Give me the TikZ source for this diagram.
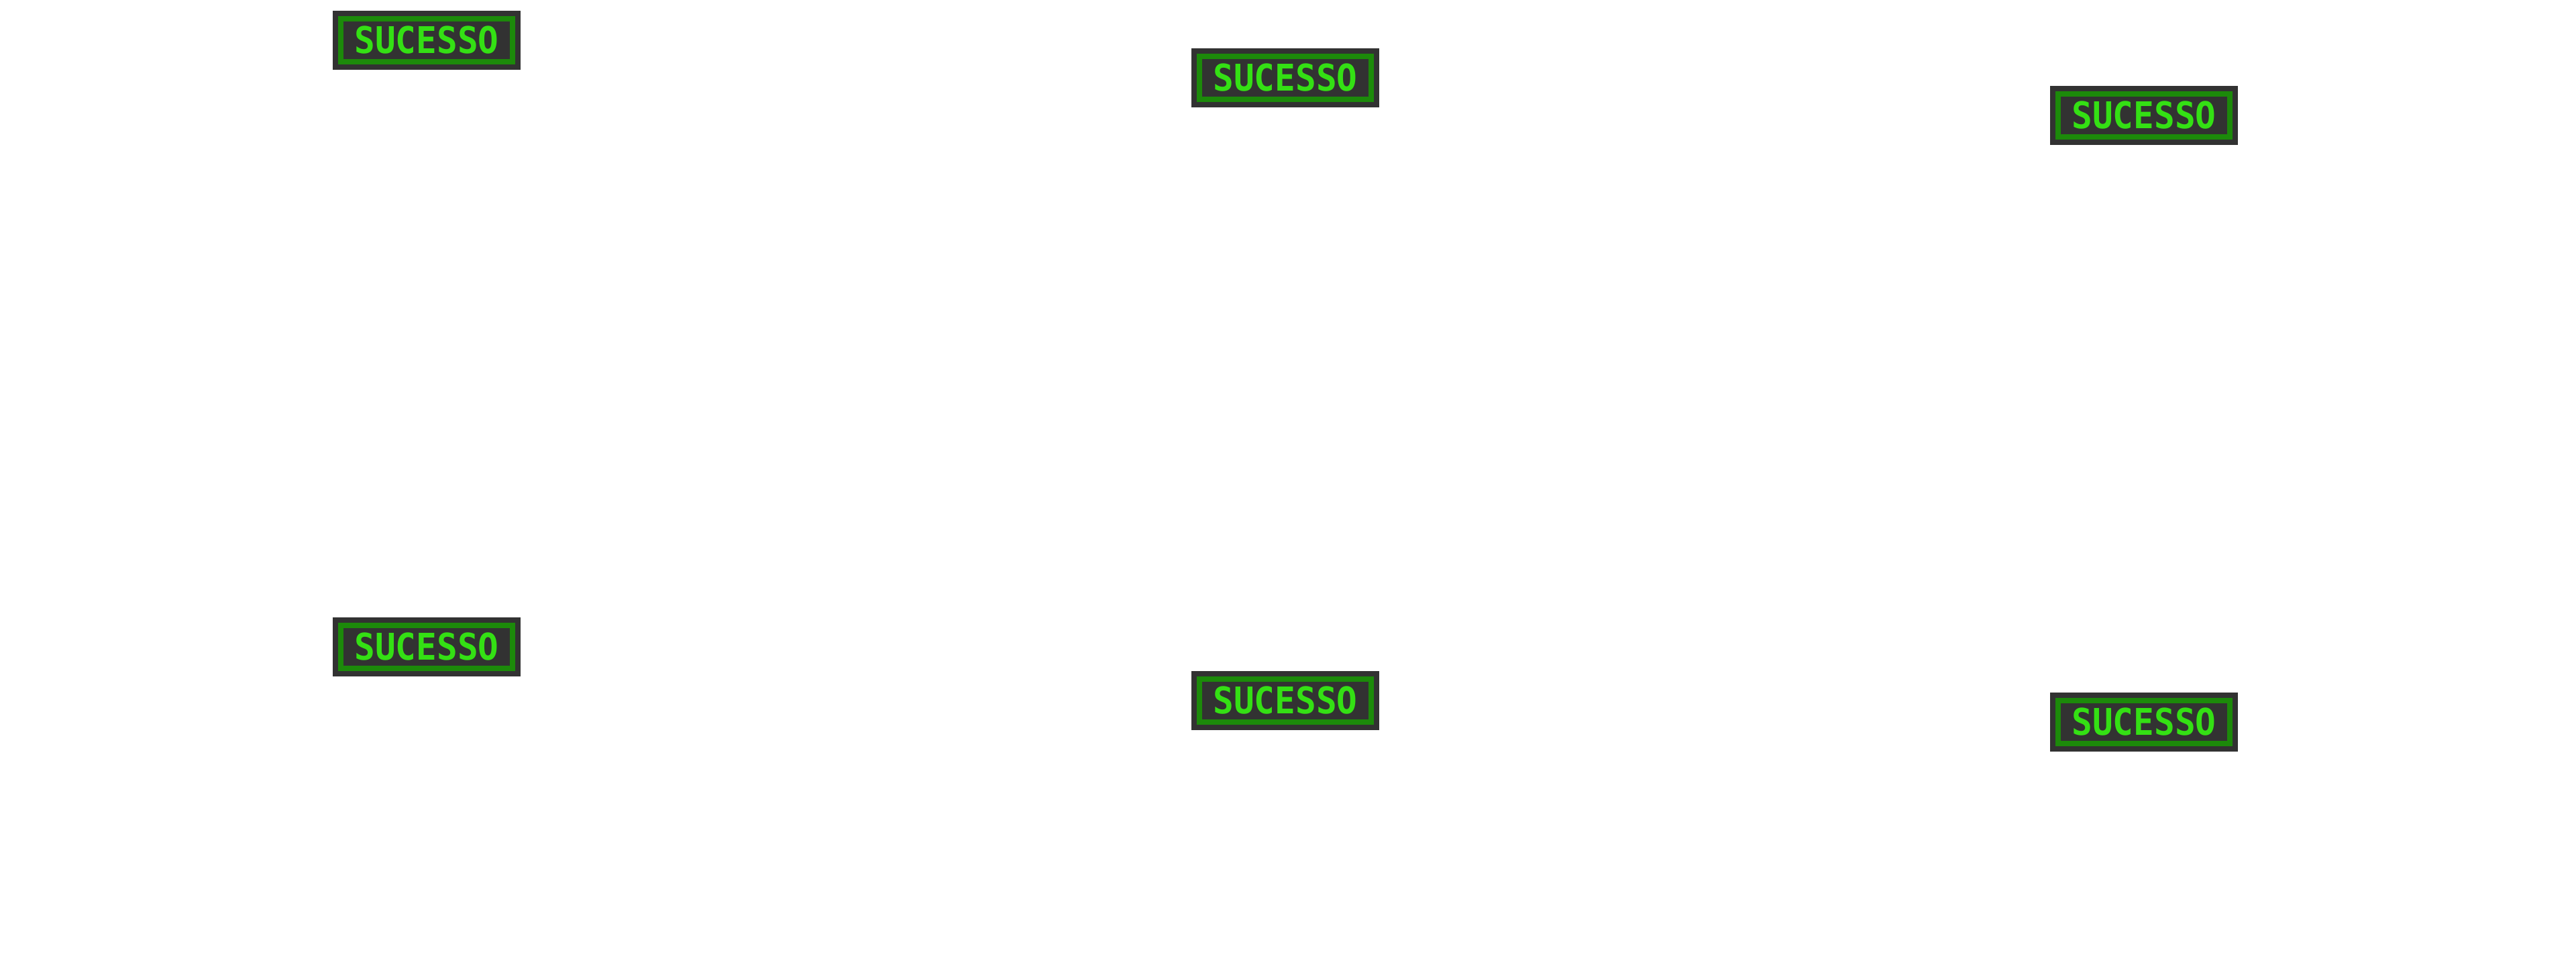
\documentclass[tikz,border=0pt]{standalone}
\usepackage{fontspec}
\usepackage{tikz}
\usetikzlibrary{shapes,positioning}
\newfontfamily\pixelfont{DejaVu Sans Mono}[FakeStretch=0.93]
\definecolor{fundo}{HTML}{323232}
\definecolor{faixa}{HTML}{1C8A0A}
\definecolor{letra}{HTML}{34E014}
\tikzstyle{sucesso} = [rectangle, fill=fundo, draw=fundo, line width=0.08cm, double=faixa, double distance=0.08cm, minimum width=2.56cm, minimum height=0.64cm, inner sep=0pt, text=letra, font=\pixelfont\bfseries\fontsize{15.6pt}{16pt}\selectfont]
\begin{document}
\begin{tikzpicture}
	\useasboundingbox (0,0) rectangle (38.4,-14.4);
	\node [sucesso] (sucessoA) at (6.36,-0.60) {SUCESSO};
	\node [sucesso] (sucessoB) at (19.16,-1.16) {SUCESSO};
	\node [sucesso] (sucessoC) at (31.96,-1.72) {SUCESSO};
	\node [sucesso] (sucessoD) at (6.36,-9.64) {SUCESSO};
	\node [sucesso] (sucessoE) at (19.16,-10.44) {SUCESSO};
	\node [sucesso] (sucessoF) at (31.96,-10.76) {SUCESSO};
\end{tikzpicture}
\end{document}
